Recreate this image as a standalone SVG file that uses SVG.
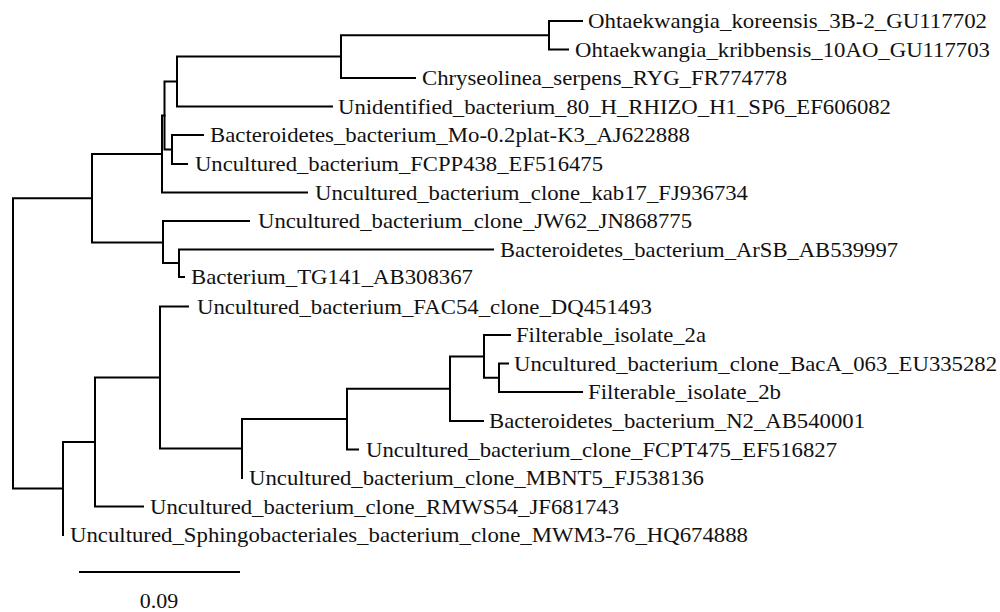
<svg xmlns="http://www.w3.org/2000/svg" width="1000" height="612" viewBox="0 0 1000 612">
<style>
.br{fill:none;stroke:#000;stroke-width:2;stroke-linecap:square;stroke-linejoin:miter}
text{font-family:'Liberation Serif','Times New Roman',serif;font-size:22px;fill:#111}
</style>
<rect width="1000" height="612" fill="#fff"/>
<g id="connectors">
<path class="br" d="M92 198.2H13V488.5H63"/>
<path class="br" d="M162 154H92V242.4H163"/>
<path class="br" d="M164.5 115.5H162V192.5H307"/>
<path class="br" d="M177 81.6H164.5V149.5H172"/>
<path class="br" d="M341 56.6H177V106.5H332"/>
<path class="br" d="M549 35.25H341V78H415"/>
<path class="br" d="M582 21H549V49.5H568"/>
<path class="br" d="M203 135H172V164H187"/>
<path class="br" d="M249 221H163V263H179"/>
<path class="br" d="M493 249.5H179V277H184"/>
<path class="br" d="M95 442H63V535"/>
<path class="br" d="M160 377.5H95V506.5H143"/>
<path class="br" d="M188 306.5H160V448.5H242"/>
<path class="br" d="M347 419.1H242V478"/>
<path class="br" d="M450 388.7H347V449.5H358"/>
<path class="br" d="M484 356.4H450V421H483"/>
<path class="br" d="M510 335H484V377.75H499"/>
<path class="br" d="M508 363.5H499V392H582"/>
</g>
<g id="n1"><text x="588" y="28" textLength="399" lengthAdjust="spacingAndGlyphs">Ohtaekwangia_koreensis_3B-2_GU117702</text></g>
<g id="n2"><text x="575" y="56.5" textLength="415" lengthAdjust="spacingAndGlyphs">Ohtaekwangia_kribbensis_10AO_GU117703</text></g>
<g id="n3"><text x="422" y="85" textLength="365" lengthAdjust="spacingAndGlyphs">Chryseolinea_serpens_RYG_FR774778</text></g>
<g id="n4"><text x="338" y="113.5" textLength="553" lengthAdjust="spacingAndGlyphs">Unidentified_bacterium_80_H_RHIZO_H1_SP6_EF606082</text></g>
<g id="n5"><text x="210" y="142" textLength="480" lengthAdjust="spacingAndGlyphs">Bacteroidetes_bacterium_Mo-0.2plat-K3_AJ622888</text></g>
<g id="n6"><text x="195" y="171" textLength="408" lengthAdjust="spacingAndGlyphs">Uncultured_bacterium_FCPP438_EF516475</text></g>
<g id="n7"><text x="315" y="199.5" textLength="433" lengthAdjust="spacingAndGlyphs">Uncultured_bacterium_clone_kab17_FJ936734</text></g>
<g id="n8"><text x="258" y="228" textLength="434" lengthAdjust="spacingAndGlyphs">Uncultured_bacterium_clone_JW62_JN868775</text></g>
<g id="n9"><text x="500" y="256.5" textLength="398" lengthAdjust="spacingAndGlyphs">Bacteroidetes_bacterium_ArSB_AB539997</text></g>
<g id="n10"><text x="191" y="284" textLength="282" lengthAdjust="spacingAndGlyphs">Bacterium_TG141_AB308367</text></g>
<g id="n11"><text x="197" y="313.5" textLength="455" lengthAdjust="spacingAndGlyphs">Uncultured_bacterium_FAC54_clone_DQ451493</text></g>
<g id="n12"><text x="516" y="342" textLength="190" lengthAdjust="spacingAndGlyphs">Filterable_isolate_2a</text></g>
<g id="n13"><text x="514" y="370.5" textLength="483" lengthAdjust="spacingAndGlyphs">Uncultured_bacterium_clone_BacA_063_EU335282</text></g>
<g id="n14"><text x="588" y="399" textLength="193" lengthAdjust="spacingAndGlyphs">Filterable_isolate_2b</text></g>
<g id="n15"><text x="489" y="428" textLength="376" lengthAdjust="spacingAndGlyphs">Bacteroidetes_bacterium_N2_AB540001</text></g>
<g id="n16"><text x="366" y="456.5" textLength="471" lengthAdjust="spacingAndGlyphs">Uncultured_bacterium_clone_FCPT475_EF516827</text></g>
<g id="n17"><text x="249" y="485" textLength="455" lengthAdjust="spacingAndGlyphs">Uncultured_bacterium_clone_MBNT5_FJ538136</text></g>
<g id="n18"><text x="150" y="513.5" textLength="469" lengthAdjust="spacingAndGlyphs">Uncultured_bacterium_clone_RMWS54_JF681743</text></g>
<g id="n19"><text x="70" y="542" textLength="678" lengthAdjust="spacingAndGlyphs">Uncultured_Sphingobacteriales_bacterium_clone_MWM3-76_HQ674888</text></g>
<g id="scale">
<path class="br" d="M80 572H239"/>
<text x="159" y="608" text-anchor="middle">0.09</text>
</g>
</svg>
